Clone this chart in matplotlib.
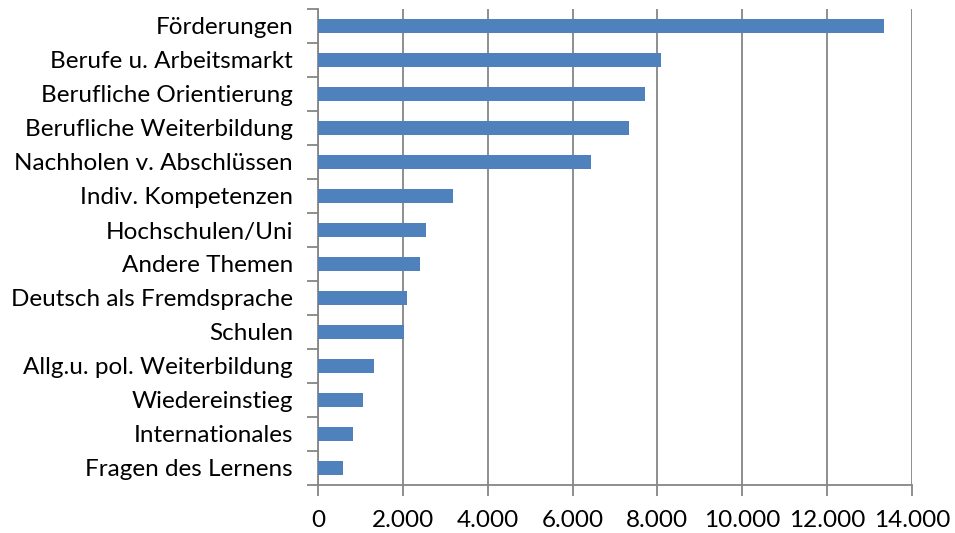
"""Horizontal bar chart of advice topics (Excel style)."""

import matplotlib

matplotlib.use("Agg")

import matplotlib.pyplot as plt
from matplotlib.ticker import FixedLocator, FuncFormatter

BAR_COLOR = "#4F81BD"
GRID_COLOR = "#868686"

categories = [
    "Förderungen",
    "Berufe u. Arbeitsmarkt",
    "Berufliche Orientierung",
    "Berufliche Weiterbildung",
    "Nachholen v. Abschlüssen",
    "Indiv. Kompetenzen",
    "Hochschulen/Uni",
    "Andere Themen",
    "Deutsch als Fremdsprache",
    "Schulen",
    "Allg.u. pol. Weiterbildung",
    "Wiedereinstieg",
    "Internationales",
    "Fragen des Lernens",
]
values = [13330, 8080, 7700, 7340, 6430, 3190, 2540, 2410, 2100, 2030, 1320, 1070, 830, 580]
x_ticks = [0, 2000, 4000, 6000, 8000, 10000, 12000, 14000]

plt.rcParams["font.family"] = ["Lato", "DejaVu Sans"]

fig = plt.figure(figsize=(9.55, 5.33), dpi=100)
ax = fig.add_axes([318 / 955, 1 - 485 / 533, (912 - 318) / 955, (485 - 9) / 533])

n = len(categories)
pos = list(range(n))[::-1]
ax.barh(pos, values, height=0.39, color=BAR_COLOR, zorder=3)

ax.set_xlim(0, 14000)
ax.set_ylim(-0.5, n - 0.5)
ax.xaxis.set_major_locator(FixedLocator(x_ticks))
ax.xaxis.set_major_formatter(FuncFormatter(lambda v, _: f"{int(v):,}".replace(",", ".")))
ax.grid(axis="x", color=GRID_COLOR, linewidth=1.3, zorder=0)

ax.set_yticks(pos)
ax.set_yticklabels(categories)
ax.yaxis.set_minor_locator(FixedLocator([p - 0.5 for p in range(n + 1)]))
ax.tick_params(axis="y", which="major", length=0, pad=18, labelsize=17.5)
ax.tick_params(axis="y", which="minor", length=8, width=1.3, color=GRID_COLOR)
ax.tick_params(axis="x", length=8, width=1.3, color=GRID_COLOR, pad=10, labelsize=17.5)

for side in ("top", "right"):
    ax.spines[side].set_visible(False)
for side in ("left", "bottom"):
    ax.spines[side].set_color(GRID_COLOR)
    ax.spines[side].set_linewidth(1.3)

fig.savefig("out.png", dpi=100)
